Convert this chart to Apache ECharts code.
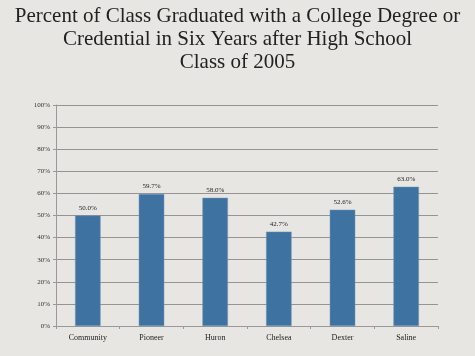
<!DOCTYPE html>
<html><head><meta charset="utf-8">
<script src="https://cdn.jsdelivr.net/npm/echarts@6/dist/echarts.min.js"></script>
<style>html,body{margin:0;padding:0;background:#e7e6e2;}#c{width:475px;height:356px;}</style>
</head><body><div id="c"></div>
<script>
var titleLines = ["Percent of Class Graduated with a College Degree or", "Credential in Six Years after High School", "Class of 2005"];
var categories = ["Community", "Pioneer", "Huron", "Chelsea", "Dexter", "Saline"];
var values = [50.0, 59.7, 58.0, 42.7, 52.6, 63.0];
var yTicks = [0, 10, 20, 30, 40, 50, 60, 70, 80, 90, 100];

var chart = echarts.init(document.getElementById('c'));
chart.setOption({
  backgroundColor: '#e7e6e2',
  animation: false,
  title: {
    text: titleLines.join('\n'),
    left: 'center', top: 0,
    textStyle: { fontFamily: 'Liberation Serif, DejaVu Serif, serif', fontSize: 21, fontWeight: 'normal', color: '#222', lineHeight: 23 }
  },
  grid: { left: 56, right: 37, top: 105, bottom: 30 },
  xAxis: {
    type: 'category', data: categories,
    axisLine: { lineStyle: { color: '#999' } },
    axisTick: { show: true, lineStyle: { color: '#999' }, length: 3 },
    axisLabel: { fontFamily: 'Liberation Serif, serif', fontSize: 8, color: '#222', margin: 8 }
  },
  yAxis: {
    type: 'value', min: yTicks[0], max: yTicks[yTicks.length - 1], interval: 10,
    axisLine: { show: true, lineStyle: { color: '#999' } },
    axisTick: { show: true, lineStyle: { color: '#999' }, length: 3 },
    splitLine: { lineStyle: { color: '#949494', width: 1 } },
    axisLabel: { formatter: '{value}%', fontFamily: 'Liberation Serif, serif', fontSize: 7, color: '#333', margin: 6 }
  },
  series: [{
    type: 'bar', data: values, barWidth: '40%',
    itemStyle: { color: '#3e72a0', borderColor: '#6f95b8', borderWidth: 0.5 },
    label: { show: true, position: 'top', formatter: function (p) { return p.value.toFixed(1) + '%'; },
      fontFamily: 'Liberation Serif, serif', fontSize: 7, color: '#222', distance: 4 }
  }]
});
</script></body></html>
